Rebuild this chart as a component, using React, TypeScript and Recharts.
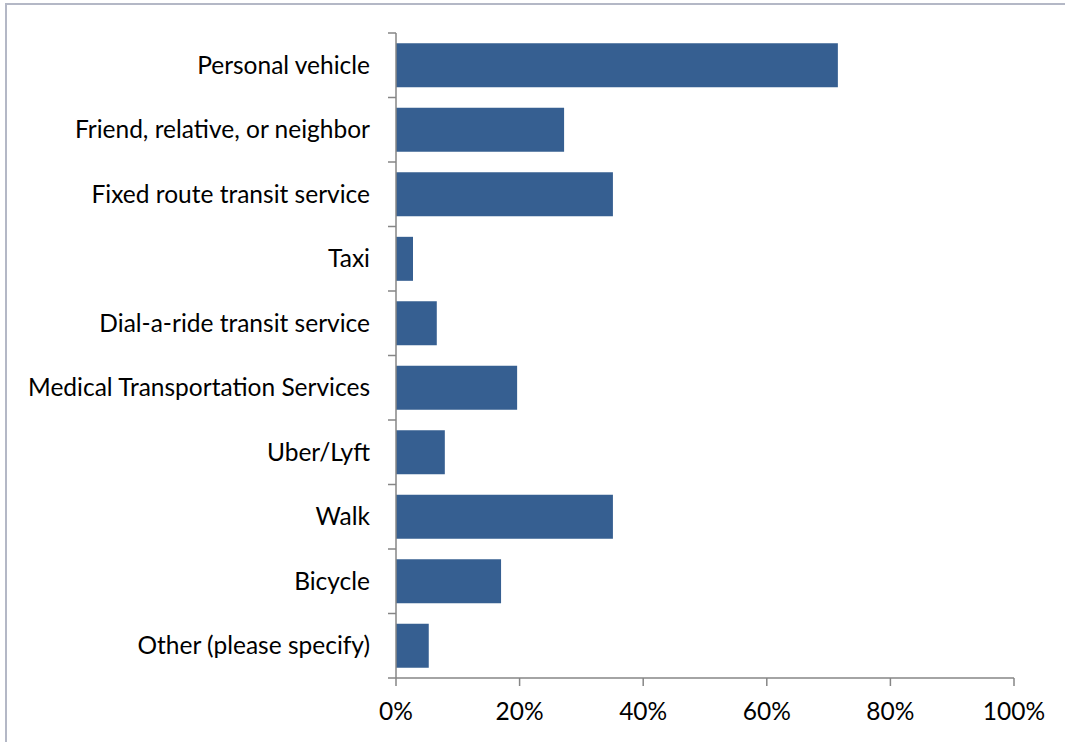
import React from 'react';
import { BarChart, Bar, XAxis, YAxis } from 'recharts';

const categories = [
  'Personal vehicle',
  'Friend, relative, or neighbor',
  'Fixed route transit service',
  'Taxi',
  'Dial-a-ride transit service',
  'Medical Transportation Services',
  'Uber/Lyft',
  'Walk',
  'Bicycle',
  'Other (please specify)',
];
const shares = [71.5, 27.2, 35.1, 2.75, 6.6, 19.6, 7.9, 35.1, 17.0, 5.3];
const xTicks = [0, 20, 40, 60, 80, 100];

const data = categories.map((name, i) => ({ name, value: shares[i] }));

const FONT = 'Lato, "Open Sans", sans-serif';
const AXIS = '#868686';
const W = 1065;
const H = 742;
const TOP = 33;
const X_AXIS_H = 64;
const Y_AXIS_W = 396;
const TICK = 8;
const GAP = 18;
const band = (H - TOP - X_AXIS_H) / categories.length;

// category label plus Excel-style tick marks on the band boundaries
function CategoryTick(props: any) {
  const { y, payload, index } = props;
  const ax = Y_AXIS_W;
  const top = y - band / 2;
  return (
    <g>
      <line x1={ax - TICK} x2={ax} y1={top} y2={top} stroke={AXIS} strokeWidth={1.5} />
      {index === categories.length - 1 && (
        <line x1={ax - TICK} x2={ax} y1={top + band} y2={top + band} stroke={AXIS} strokeWidth={1.5} />
      )}
      <text
        x={ax - TICK - GAP}
        y={y}
        dy="0.355em"
        textAnchor="end"
        fill="#000"
        fontSize={24.5}
        fontFamily={FONT}
      >
        {payload.value}
      </text>
    </g>
  );
}

export default function App() {
  return (
    <div style={{ position: 'fixed', left: 0, top: 0, width: W, height: H, background: '#fff' }}>
      <div
        style={{
          position: 'absolute',
          left: 5,
          top: 3,
          width: 1070,
          height: 750,
          border: '2px solid #b4b8c6',
          boxSizing: 'border-box',
        }}
      />
      <div style={{ position: 'absolute', left: 0, top: 0 }}>
        <BarChart
          width={W}
          height={H}
          data={data}
          layout="vertical"
          margin={{ top: TOP, right: 51, bottom: 0, left: 0 }}
          barCategoryGap="16%"
        >
          <XAxis
            type="number"
            domain={[0, 100]}
            ticks={xTicks}
            tickFormatter={(v: number) => `${v}%`}
            height={X_AXIS_H}
            axisLine={{ stroke: AXIS, strokeWidth: 1.5 }}
            tickLine={{ stroke: AXIS, strokeWidth: 1.5 }}
            tickSize={TICK}
            tickMargin={17}
            tick={{ fill: '#000', fontSize: 24.5, fontFamily: FONT }}
            interval={0}
          />
          <YAxis
            type="category"
            dataKey="name"
            width={Y_AXIS_W}
            axisLine={{ stroke: AXIS, strokeWidth: 1.5 }}
            tickLine={false}
            tick={<CategoryTick />}
            interval={0}
          />
          <Bar dataKey="value" fill="#365f91" isAnimationActive={false} />
        </BarChart>
      </div>
    </div>
  );
}
